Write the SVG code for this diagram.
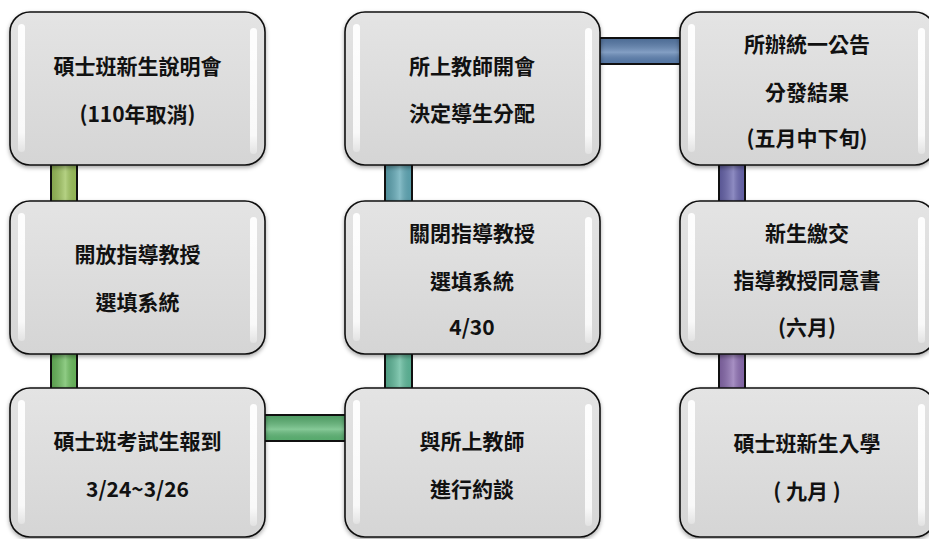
<svg xmlns="http://www.w3.org/2000/svg" width="929" height="539" viewBox="0 0 929 539">
<defs>
<linearGradient id="boxg" x1="0" y1="0" x2="0" y2="1">
<stop offset="0" stop-color="#e4e4e4"/>
<stop offset="1" stop-color="#d5d5d5"/>
</linearGradient>
<linearGradient id="hl" x1="0" y1="0" x2="0" y2="1">
<stop offset="0" stop-color="#ffffff" stop-opacity="0.95"/>
<stop offset="0.85" stop-color="#ffffff" stop-opacity="0.85"/>
<stop offset="1" stop-color="#ffffff" stop-opacity="0.3"/>
</linearGradient>
<linearGradient id="shv" x1="0" y1="0" x2="1" y2="0">
<stop offset="0" stop-color="#000" stop-opacity="0.15"/>
<stop offset="0.55" stop-color="#fff" stop-opacity="0.25"/>
<stop offset="1" stop-color="#000" stop-opacity="0.06"/>
</linearGradient>
<linearGradient id="shh" x1="0" y1="0" x2="0" y2="1">
<stop offset="0" stop-color="#000" stop-opacity="0.15"/>
<stop offset="0.55" stop-color="#fff" stop-opacity="0.25"/>
<stop offset="1" stop-color="#000" stop-opacity="0.06"/>
</linearGradient>
<filter id="sh" x="-10%" y="-10%" width="120%" height="130%">
<feDropShadow dx="0" dy="2" stdDeviation="2" flood-color="#000" flood-opacity="0.35"/>
</filter>
</defs>
<style>
.box{fill:url(#boxg);stroke:#111;stroke-width:1.6;filter:url(#sh)}
.hl{fill:url(#hl)}
.bar{stroke:#111;stroke-width:2}
.t{font-family:"Noto Sans CJK TC","Noto Sans",sans-serif;font-weight:700;font-size:21px;fill:#111;text-anchor:middle;dominant-baseline:central}
</style>
<g id="connectors">
<rect class="bar" x="51" y="160" width="26" height="46" fill="#9cc25a"/>
<rect x="51" y="160" width="26" height="46" fill="url(#shv)"/>
<rect class="bar" x="51" y="350" width="26" height="42" fill="#6abb5c"/>
<rect x="51" y="350" width="26" height="42" fill="url(#shv)"/>
<rect class="bar" x="262" y="415" width="85" height="26" fill="#5db775"/>
<rect x="262" y="415" width="85" height="26" fill="url(#shh)"/>
<rect class="bar" x="385" y="350" width="27" height="42" fill="#5db899"/>
<rect x="385" y="350" width="27" height="42" fill="url(#shv)"/>
<rect class="bar" x="385" y="160" width="27" height="46" fill="#5ea7b5"/>
<rect x="385" y="160" width="27" height="46" fill="url(#shv)"/>
<rect class="bar" x="597" y="38" width="86" height="26" fill="#5a7fb0"/>
<rect x="597" y="38" width="86" height="26" fill="url(#shh)"/>
<rect class="bar" x="719" y="160" width="26" height="46" fill="#6865ae"/>
<rect x="719" y="160" width="26" height="46" fill="url(#shv)"/>
<rect class="bar" x="719" y="350" width="26" height="42" fill="#8a6bb0"/>
<rect x="719" y="350" width="26" height="42" fill="url(#shv)"/>
</g>
<g id="n1">
<rect class="box" x="10" y="12" width="255" height="153" rx="20"/>
<rect class="hl" x="18" y="24" width="7" height="128" rx="3.5"/>
<rect class="hl" x="250" y="28" width="7" height="126" rx="3.5"/>
<text class="t" x="137.5" y="65">碩士班新生說明會</text>
<text class="t" x="137.5" y="113">(110年取消)</text>
</g>
<g id="n2">
<rect class="box" x="10" y="201" width="255" height="153" rx="20"/>
<rect class="hl" x="18" y="213" width="7" height="128" rx="3.5"/>
<rect class="hl" x="250" y="217" width="7" height="126" rx="3.5"/>
<text class="t" x="137.5" y="253">開放指導教授</text>
<text class="t" x="137.5" y="301">選填系統</text>
</g>
<g id="n3">
<rect class="box" x="10" y="388" width="255" height="149" rx="20"/>
<rect class="hl" x="18" y="400" width="7" height="124" rx="3.5"/>
<rect class="hl" x="250" y="404" width="7" height="122" rx="3.5"/>
<text class="t" x="137.5" y="440">碩士班考試生報到</text>
<text class="t" x="137.5" y="488">3/24~3/26</text>
</g>
<g id="n4">
<rect class="box" x="345" y="12" width="255" height="153" rx="20"/>
<rect class="hl" x="353" y="24" width="7" height="128" rx="3.5"/>
<rect class="hl" x="585" y="28" width="7" height="126" rx="3.5"/>
<text class="t" x="472" y="65">所上教師開會</text>
<text class="t" x="472" y="112">決定導生分配</text>
</g>
<g id="n5">
<rect class="box" x="345" y="201" width="255" height="153" rx="20"/>
<rect class="hl" x="353" y="213" width="7" height="128" rx="3.5"/>
<rect class="hl" x="585" y="217" width="7" height="126" rx="3.5"/>
<text class="t" x="472" y="232">關閉指導教授</text>
<text class="t" x="472" y="280">選填系統</text>
<text class="t" x="472" y="326">4/30</text>
</g>
<g id="n6">
<rect class="box" x="345" y="388" width="255" height="149" rx="20"/>
<rect class="hl" x="353" y="400" width="7" height="124" rx="3.5"/>
<rect class="hl" x="585" y="404" width="7" height="122" rx="3.5"/>
<text class="t" x="472" y="440">與所上教師</text>
<text class="t" x="472" y="488">進行約談</text>
</g>
<g id="n7">
<rect class="box" x="680" y="12" width="255" height="153" rx="20"/>
<rect class="hl" x="688" y="24" width="7" height="128" rx="3.5"/>
<rect class="hl" x="918" y="28" width="7" height="126" rx="3.5"/>
<text class="t" x="807" y="43">所辦統一公告</text>
<text class="t" x="807" y="91">分發結果</text>
<text class="t" x="807" y="137">(五月中下旬)</text>
</g>
<g id="n8">
<rect class="box" x="680" y="201" width="255" height="153" rx="20"/>
<rect class="hl" x="688" y="213" width="7" height="128" rx="3.5"/>
<rect class="hl" x="918" y="217" width="7" height="126" rx="3.5"/>
<text class="t" x="807" y="232">新生繳交</text>
<text class="t" x="807" y="279">指導教授同意書</text>
<text class="t" x="807" y="326">(六月)</text>
</g>
<g id="n9">
<rect class="box" x="680" y="388" width="255" height="149" rx="20"/>
<rect class="hl" x="688" y="400" width="7" height="124" rx="3.5"/>
<rect class="hl" x="918" y="404" width="7" height="122" rx="3.5"/>
<text class="t" x="807" y="442">碩士班新生入學</text>
<text class="t" x="807" y="490">( 九月 )</text>
</g>
</svg>
